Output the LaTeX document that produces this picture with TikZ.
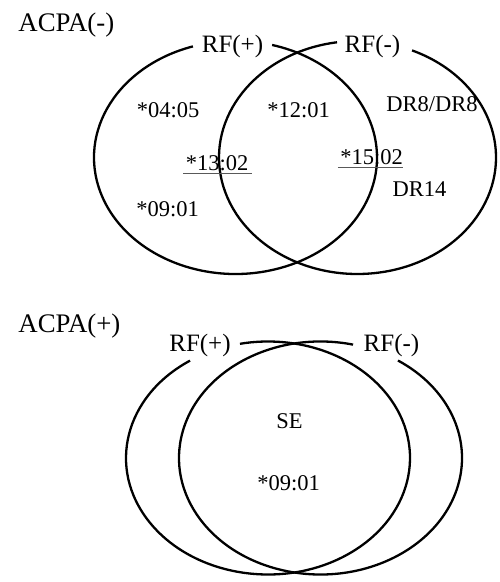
\documentclass[tikz,border=0pt]{standalone}
\usepackage{fontspec}
\setmainfont{Liberation Serif}
\usetikzlibrary{calc}
\def\ellarc[#1](#2)(#3:#4:#5:#6){\draw[#1] ($(#2)+({#5*cos(#3)},{#6*sin(#3)})$) arc[start angle=#3, end angle=#4, x radius=#5, y radius=#6];}

\begin{document}
\begin{tikzpicture}[x=0.5pt, y=0.5pt,
		rim/.style={line width=1.15pt, black},
		grp/.style={anchor=base west, inner sep=0pt, font=\fontsize{13.4}{16}\selectfont},
		set/.style={anchor=base, inner sep=0pt, font=\fontsize{12.5}{15}\selectfont},
		allele/.style={anchor=base, inner sep=0pt, font=\fontsize{11.25}{13}\selectfont},
		uline/.style={line width=0.8pt, black!65}]
				\useasboundingbox (0, 0) rectangle (499, 582);
				
				\node[grp] (acpaneg) at (18, 550) {ACPA(-)};
				\node[set] (rfposA) at (232.5, 529) {RF(+)};
				\node[set] (rfnegA) at (372.5, 529) {RF(-)};
				
				\ellarc[rim](235.5, 424.5)(107.5:435:141.5:116.5);
				\ellarc[rim](357.5, 424.5)(98.5:426.8:138.5:116.5);
				
				\node[allele] (a0405) at (168, 464) {*04:05};
				\node[allele] (a1201) at (298.5, 464) {*12:01};
				\node[allele] (dr8) at (432, 470) {DR8/DR8};
				\node[allele] (a1302) at (217, 411) {*13:02};
				\node[allele] (a1502) at (371.5, 417) {*15:02};
				\node[allele] (dr14) at (419.5, 385) {DR14};
				\node[allele] (a0901) at (167.5, 365) {*09:01};
				
				\draw[uline] ([xshift=-1pt, yshift=-1.3pt]a1302.base west) -- ([xshift=1.5pt, yshift=-1.3pt]a1302.base east);
				\draw[uline] ([xshift=-1pt, yshift=-1.3pt]a1502.base west) -- ([xshift=0pt, yshift=-1.3pt]a1502.base east);
				
				\node[grp] (acpapos) at (18, 249.3) {ACPA(+)};
				\node[set] (rfposB) at (200, 230) {RF(+)};
				\node[set] (rfnegB) at (391.5, 230) {RF(-)};
				
				\ellarc[rim](268, 124)(123.3:461.4:142:116.5);
				\ellarc[rim](320.5, 124)(76.7:416.8:141.5:116.5);
				
				\node[allele] (se) at (289.5, 153) {SE};
				\node[allele] (b0901) at (288.5, 91) {*09:01};
			\end{tikzpicture}
\end{document}
